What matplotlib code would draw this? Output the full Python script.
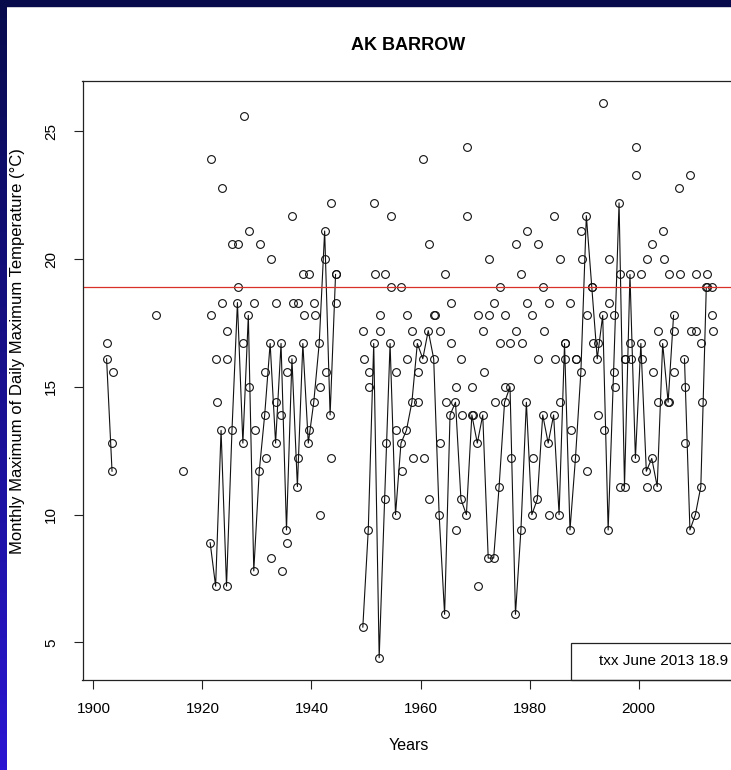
import numpy as np
import pandas as pd
import matplotlib
matplotlib.use("Agg")
import matplotlib.pyplot as plt
from matplotlib.patches import Rectangle

# =============================================================================
# ДАННЫЕ: месячный максимум суточного Tmax, Барроу (°C)
# =============================================================================
years = [1902, 1903, 1911, 1916,
         1921, 1922, 1923, 1924, 1925, 1926, 1927, 1928, 1929, 1930,
         1931, 1932, 1933, 1934, 1935, 1936, 1937, 1938, 1939, 1940,
         1941, 1942, 1943, 1944,
         1949, 1950, 1951, 1952, 1953, 1954, 1955, 1956, 1957, 1958,
         1959, 1960, 1961, 1962, 1963, 1964, 1965, 1966, 1967, 1968,
         1969, 1970, 1971, 1972, 1973, 1974, 1975, 1976, 1977, 1978,
         1979, 1980, 1981, 1982, 1983, 1984, 1985, 1986, 1987, 1988,
         1989, 1990, 1991, 1992, 1993, 1994, 1995, 1996, 1997, 1998,
         1999, 2000, 2001, 2002, 2003, 2004, 2005, 2006, 2007, 2008,
         2009, 2010, 2011, 2012, 2013]

nan = np.nan
# июнь (соединён линией)
june = [16.1, 11.7, nan, nan,
        8.9, 7.2, 13.3, 7.2, 13.3, 18.3, 12.8, 17.8, 7.8, 11.7,
        13.9, 16.7, 12.8, 16.7, 9.4, 16.1, 11.1, 16.7, 12.8, 14.4,
        16.7, 21.1, 13.9, 19.4,
        5.6, 9.4, 16.7, 4.4, 10.6, 16.7, 10.0, 12.8, 13.3, 14.4,
        16.7, 16.1, 17.2, 16.1, 10.0, 6.1, 13.9, 14.4, 10.6, 10.0,
        13.9, 12.8, 13.9, 8.3, 8.3, 11.1, 14.4, 15.0, 6.1, 9.4,
        14.4, 10.0, 10.6, 13.9, 12.8, 13.9, 10.0, 16.7, 9.4, 12.2,
        15.6, 21.7, 18.9, 16.1, 17.8, 9.4, 15.6, 22.2, 11.1, 19.4,
        12.2, 16.7, 11.7, 12.2, 11.1, 16.7, 14.4, 17.8, nan, 16.1,
        9.4, 10.0, 11.1, 18.9, 18.9]

# остальные летние месяцы (только точки)
month_b = [16.7, 12.8, 17.8, 11.7,
           17.8, 16.1, 18.3, 17.2, 20.6, 18.9, 16.7, 21.1, 18.3, 20.6,
           15.6, 20.0, 18.3, 13.9, 15.6, 21.7, 18.3, 19.4, 19.4, 18.3,
           15.0, 20.0, 22.2, 19.4,
           17.2, 15.6, 22.2, 17.8, 19.4, 21.7, 15.6, 18.9, 17.8, 17.2,
           15.6, 23.9, 20.6, 17.8, 17.2, 19.4, 18.3, 15.0, 16.1, 24.4,
           15.0, 17.8, 17.2, 20.0, 18.3, 18.9, 17.8, 16.7, 20.6, 19.4,
           21.1, 17.8, 20.6, 18.9, 18.3, 21.7, 20.0, 16.7, 18.3, 16.1,
           21.1, 17.8, 18.9, 16.7, 26.1, 20.0, 17.8, 19.4, 16.1, 16.7,
           24.4, 19.4, 20.0, 20.6, 17.2, 21.1, 19.4, 17.2, 22.8, 15.0,
           23.3, 19.4, 16.7, 19.4, 17.8]

month_c = [nan, 15.6, nan, nan,
           23.9, 14.4, 22.8, 16.1, nan, 20.6, 25.6, 15.0, 13.3, nan,
           12.2, 8.3, 14.4, 7.8, 8.9, 18.3, 12.2, 17.8, 13.3, 17.8,
           10.0, 15.6, 12.2, 18.3,
           16.1, 15.0, 19.4, 17.2, 12.8, 18.9, 13.3, 11.7, 16.1, 12.2,
           14.4, 12.2, 10.6, 17.8, 12.8, 14.4, 16.7, 9.4, 13.9, 21.7,
           13.9, 7.2, 15.6, 17.8, 14.4, 16.7, 15.0, 12.2, 17.2, 16.7,
           18.3, 12.2, 16.1, 17.2, 10.0, 16.1, 14.4, 16.1, 13.3, 16.1,
           20.0, 11.7, 16.7, 13.9, 13.3, 18.3, 15.0, 11.1, 16.1, 16.1,
           23.3, 16.1, 11.1, 15.6, 14.4, 20.0, 14.4, 15.6, 19.4, 12.8,
           17.2, 17.2, 14.4, 18.9, 17.2]

ref_label = 'txx June 2013 18.9'
ref_value = 18.9

# =============================================================================
# ПОДГОТОВКА
# =============================================================================
df = pd.DataFrame({'june': june, 'b': month_b, 'c': month_c}, index=years)
# пропущенные годы -> NaN, чтобы линия рвалась
df = df.reindex(range(min(years), max(years) + 1))
yr = df.index.values.astype(float)

plt.rcParams['font.family'] = ['Liberation Sans', 'DejaVu Sans']

fig = plt.figure(figsize=(7.31, 7.70), dpi=100)
fig.patch.set_facecolor('white')

# тёмно-синяя рамка слайда (верх и левый край)
fig.patches.append(Rectangle((0, 1 - 5.5 / 770), 1, 5.5 / 770,
                             transform=fig.transFigure, color='#070b4c', zorder=0))
band = fig.add_axes([0, 0, 7 / 731, 1])
grad = np.linspace(0, 1, 256)[:, None]
c_top = np.array([0x07, 0x0b, 0x4c]) / 255
c_bot = np.array([0x2a, 0x16, 0xd2]) / 255
band.imshow(c_top + (c_bot - c_top) * grad[:, :, None], aspect='auto')
band.set_axis_off()

ax = fig.add_axes([82.5 / 731, 90 / 770, 651.5 / 731, 599 / 770])

ax.plot(yr + 6 / 12, df['b'], 'o', mfc='none', mec='#111111', ms=5.6, mew=0.8)
ax.plot(yr + 7 / 12, df['c'], 'o', mfc='none', mec='#111111', ms=5.6, mew=0.8)
ax.plot(yr + 5 / 12, df['june'], '-o', color='#111111', mfc='none',
        mec='#111111', ms=5.6, mew=0.8, lw=0.8)

ax.axhline(ref_value, color='#d9302a', lw=0.9)

ax.set_xlim(1898.0, 2017.5)
ax.set_ylim(3.53, 26.97)
ax.set_xticks([1900, 1920, 1940, 1960, 1980, 2000])
ax.set_yticks([5, 10, 15, 20, 25])
ax.tick_params(direction='out', length=6.5, width=0.8, labelsize=11,
               colors='#222222', labelcolor='black')
ax.tick_params(axis='x', pad=9)
ax.tick_params(axis='y', pad=11)
for lab in ax.get_yticklabels():
    lab.set_rotation(90)
    lab.set_va('center')
for side in ['top', 'right', 'bottom', 'left']:
    ax.spines[side].set_linewidth(0.9)
    ax.spines[side].set_color('#222222')

# легенда в правом нижнем углу
ax.add_patch(Rectangle((0.7498, 0), 0.3, 0.0623, transform=ax.transAxes,
                       fill=False, lw=0.9, ec='#222222', clip_on=False))
ax.text(0.7928, 0.031, ref_label, transform=ax.transAxes,
        ha='left', va='center', fontsize=11)

fig.text(408 / 731, 1 - 45 / 770, 'AK BARROW', ha='center', va='center',
         fontsize=13, fontweight='bold')
fig.text(409 / 731, 1 - 745 / 770, 'Years', ha='center', va='center', fontsize=11.5)
fig.text(18 / 731, 1 - 351 / 770,
         'Monthly Maximum of Daily Maximum Temperature (°C)',
         ha='center', va='center', rotation=90, fontsize=12)

fig.savefig('out.png', dpi=100)
